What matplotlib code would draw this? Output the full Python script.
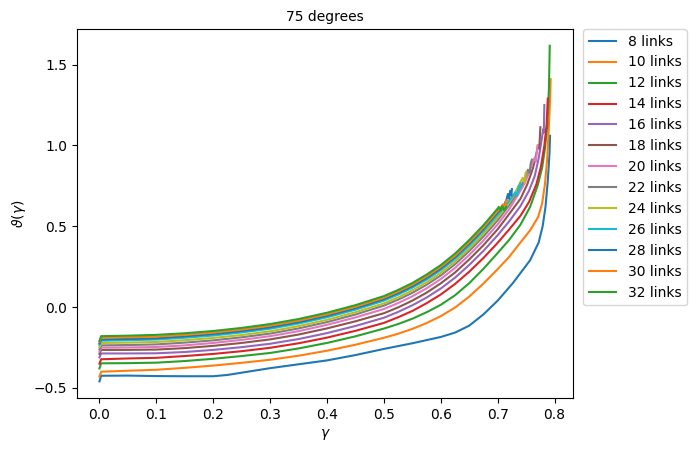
import matplotlib
matplotlib.use("Agg")
import matplotlib.pyplot as plt

links = [8, 10, 12, 14, 16, 18, 20, 22, 24, 26, 28, 30, 32]

# common body grid (gamma) for curves 10..32
gamma_body = [0.0, 0.003, 0.05, 0.1, 0.15, 0.2, 0.25, 0.3, 0.35, 0.4, 0.45, 0.5,
              0.525, 0.55, 0.575, 0.6, 0.625, 0.65, 0.675, 0.7]

theta_8_x = [0.0, 0.003, 0.05, 0.1, 0.15, 0.2, 0.225, 0.25, 0.275, 0.3, 0.35, 0.4,
             0.45, 0.5, 0.55, 0.6, 0.625, 0.65, 0.675, 0.7, 0.727, 0.757, 0.772,
             0.779, 0.784, 0.788, 0.791, 0.792]
theta_8_y = [-0.46, -0.425, -0.424, -0.427, -0.428, -0.428, -0.42, -0.406, -0.392,
             -0.378, -0.354, -0.33, -0.297, -0.259, -0.224, -0.185, -0.158, -0.115,
             -0.045, 0.04, 0.15, 0.29, 0.40, 0.50, 0.62, 0.78, 0.95, 1.06]

theta_10_y = [-0.43, -0.40, -0.394, -0.388, -0.376, -0.362, -0.345, -0.326, -0.301, -0.270,
              -0.233, -0.190, -0.165, -0.135, -0.099, -0.056, -0.003, 0.065, 0.146, 0.235]
tail_10_x = [0.72, 0.74, 0.757, 0.771, 0.778, 0.783, 0.787, 0.79, 0.792, 0.793]
tail_10_y = [0.31, 0.40, 0.475, 0.557, 0.64, 0.76, 0.92, 1.12, 1.28, 1.41]

theta_12_y = [-0.38, -0.348, -0.347, -0.344, -0.334, -0.320, -0.303, -0.284, -0.256, -0.222,
              -0.181, -0.133, -0.105, -0.072, -0.032, 0.014, 0.073, 0.148, 0.237, 0.335]
tail_12_x = [0.72, 0.74, 0.757, 0.77, 0.778, 0.783, 0.787, 0.79, 0.7915]
tail_12_y = [0.415, 0.51, 0.62, 0.75, 0.86, 0.98, 1.12, 1.35, 1.617]

theta_14_y = [-0.35, -0.323, -0.318, -0.314, -0.303, -0.290, -0.273, -0.252, -0.224, -0.189,
              -0.147, -0.098, -0.063, -0.024, 0.024, 0.078, 0.143, 0.219, 0.304, 0.398]
tail_14_x = [0.72, 0.74, 0.755, 0.768, 0.776, 0.782, 0.786, 0.788]
tail_14_y = [0.48, 0.565, 0.65, 0.76, 0.87, 1.00, 1.13, 1.29]

theta_16_y = [-0.312, -0.287, -0.287, -0.286, -0.278, -0.265, -0.248, -0.227, -0.198, -0.161,
              -0.117, -0.066, -0.030, 0.011, 0.059, 0.115, 0.182, 0.261, 0.348, 0.445]
tail_16_x = [0.72, 0.74, 0.755, 0.765, 0.772, 0.777, 0.78, 0.781, 0.782]
tail_16_y = [0.53, 0.625, 0.72, 0.81, 0.92, 1.03, 1.10, 1.08, 1.25]

theta_18_y = [-0.29, -0.265, -0.265, -0.263, -0.254, -0.240, -0.222, -0.200, -0.170, -0.132,
              -0.088, -0.038, -0.002, 0.040, 0.089, 0.147, 0.214, 0.295, 0.383, 0.482]
tail_18_x = [0.72, 0.74, 0.752, 0.762, 0.768, 0.771, 0.773, 0.775]
tail_18_y = [0.575, 0.67, 0.76, 0.86, 0.95, 1.00, 0.98, 1.113]

theta_20_y = [-0.276, -0.251, -0.250, -0.247, -0.237, -0.222, -0.203, -0.180, -0.149, -0.110,
              -0.064, -0.012, 0.025, 0.067, 0.116, 0.174, 0.242, 0.323, 0.412, 0.512]
tail_20_x = [0.72, 0.735, 0.748, 0.758, 0.764, 0.767, 0.769, 0.77]
tail_20_y = [0.605, 0.69, 0.77, 0.86, 0.92, 0.90, 0.97, 1.0]

theta_22_y = [-0.262, -0.237, -0.235, -0.231, -0.220, -0.206, -0.187, -0.164, -0.132, -0.093,
              -0.046, 0.009, 0.046, 0.088, 0.138, 0.196, 0.265, 0.347, 0.437, 0.537]
tail_22_x = [0.72, 0.735, 0.746, 0.753, 0.756, 0.758, 0.76]
tail_22_y = [0.63, 0.71, 0.78, 0.85, 0.83, 0.89, 0.912]

theta_24_y = [-0.247, -0.222, -0.220, -0.216, -0.205, -0.191, -0.173, -0.150, -0.118, -0.079,
              -0.032, 0.023, 0.060, 0.103, 0.153, 0.212, 0.281, 0.363, 0.454, 0.555]
tail_24_x = [0.715, 0.728, 0.738, 0.744, 0.747, 0.749, 0.75]
tail_24_y = [0.62, 0.69, 0.76, 0.80, 0.77, 0.83, 0.835]

theta_26_y = [-0.233, -0.208, -0.205, -0.201, -0.190, -0.176, -0.157, -0.134, -0.102, -0.063,
              -0.016, 0.040, 0.077, 0.120, 0.170, 0.229, 0.298, 0.380, 0.471, 0.572]
tail_26_x = [0.715, 0.725, 0.731, 0.734, 0.737, 0.739, 0.74]
tail_26_y = [0.635, 0.68, 0.71, 0.69, 0.75, 0.73, 0.767]

theta_28_y = [-0.225, -0.200, -0.197, -0.193, -0.181, -0.167, -0.148, -0.125, -0.093, -0.054,
              -0.007, 0.049, 0.087, 0.129, 0.180, 0.239, 0.309, 0.392, 0.483, 0.585]
tail_28_x = [0.71, 0.715, 0.718, 0.72, 0.722, 0.724, 0.725]
tail_28_y = [0.625, 0.66, 0.70, 0.67, 0.72, 0.69, 0.73]

theta_30_y = [-0.215, -0.190, -0.187, -0.183, -0.172, -0.158, -0.139, -0.115, -0.084, -0.045,
              0.002, 0.058, 0.096, 0.139, 0.190, 0.249, 0.318, 0.402, 0.493, 0.595]
tail_30_x = [0.705, 0.709, 0.712, 0.714, 0.716]
tail_30_y = [0.615, 0.635, 0.61, 0.65, 0.66]

theta_32_y = [-0.21, -0.180, -0.177, -0.172, -0.162, -0.148, -0.129, -0.105, -0.074, -0.035,
              0.012, 0.068, 0.106, 0.149, 0.201, 0.260, 0.331, 0.415, 0.507, 0.610]
tail_32_x = [0.702, 0.705, 0.708, 0.711, 0.715]
tail_32_y = [0.62, 0.595, 0.625, 0.60, 0.62]

bodies = [theta_10_y, theta_12_y, theta_14_y, theta_16_y, theta_18_y, theta_20_y,
          theta_22_y, theta_24_y, theta_26_y, theta_28_y, theta_30_y, theta_32_y]
tails_x = [tail_10_x, tail_12_x, tail_14_x, tail_16_x, tail_18_x, tail_20_x,
           tail_22_x, tail_24_x, tail_26_x, tail_28_x, tail_30_x, tail_32_x]
tails_y = [tail_10_y, tail_12_y, tail_14_y, tail_16_y, tail_18_y, tail_20_y,
           tail_22_y, tail_24_y, tail_26_y, tail_28_y, tail_30_y, tail_32_y]

fig = plt.figure(figsize=(6.99, 4.53), dpi=100)
ax = fig.add_axes([0.110, 0.121, 0.710, 0.815])

ax.plot(theta_8_x, theta_8_y, label=f"{links[0]} links")
for n, by, tx, ty in zip(links[1:], bodies, tails_x, tails_y):
    ax.plot(gamma_body + tx, by + ty, label=f"{n} links")

ax.set_title("75 degrees", fontsize=10)
ax.set_xlabel(r"$\gamma$")
ax.set_ylabel(r"$\vartheta(\gamma)$")
ax.set_xticks([0.0, 0.1, 0.2, 0.3, 0.4, 0.5, 0.6, 0.7, 0.8])
ax.set_yticks([-0.5, 0.0, 0.5, 1.0, 1.5])
ax.legend(loc="upper left", bbox_to_anchor=(1.02, 1.0), borderaxespad=0.0)

fig.savefig("out.png", dpi=100)
